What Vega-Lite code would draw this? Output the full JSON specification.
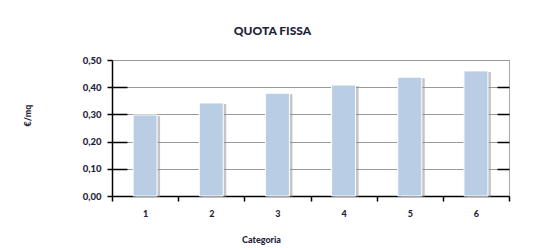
{
  "$schema": "https://vega.github.io/schema/vega-lite/v6.json",
  "autosize": {"type": "none"},
  "padding": {"left": 112, "top": 60, "right": 35, "bottom": 52},
  "width": 397,
  "height": 136,
  "background": "white",
  "title": {
    "text": "QUOTA FISSA",
    "anchor": "middle",
    "dx": -38,
    "offset": 17,
    "font": "Lato",
    "fontSize": 12,
    "fontWeight": 900,
    "color": "#1f1f3a"
  },
  "config": {
    "view": {"stroke": "#a6a6a6", "strokeWidth": 1},
    "font": "Lato",
    "axis": {"labelFont": "Lato", "titleFont": "Lato", "labelFontWeight": 900, "titleFontWeight": 900, "labelColor": "#1f1f3a", "titleColor": "#1f1f3a"}
  },
  "data": {
    "values": [
      {"Categoria": "1", "valore": 0.298},
      {"Categoria": "2", "valore": 0.342},
      {"Categoria": "3", "valore": 0.378},
      {"Categoria": "4", "valore": 0.408},
      {"Categoria": "5", "valore": 0.437},
      {"Categoria": "6", "valore": 0.46}
    ]
  },
  "resolve": {"axis": {"y": "independent"}},
  "layer": [
    {
      "mark": {"type": "bar", "width": 24, "color": "#8c8c8c", "opacity": 0.5, "xOffset": 3, "yOffset": 1},
      "encoding": {
        "x": {
          "field": "Categoria", "type": "ordinal",
          "scale": {"paddingInner": 0, "paddingOuter": 0},
          "axis": {
            "title": "Categoria", "labelAngle": 0, "tickBand": "extent",
            "domainColor": "#000000", "domainWidth": 1.5, "tickColor": "#000000", "tickWidth": 1.5, "tickSize": 5,
            "labelFontSize": 9, "labelPadding": 8,
            "titleFontSize": 9, "titleX": 149, "titleY": 43, "titleBaseline": "middle", "titleAlign": "center"
          }
        },
        "y": {
          "field": "valore", "type": "quantitative",
          "scale": {"domain": [0, 0.5], "nice": false},
          "axis": {
            "title": "€/mq", "orient": "left",
            "values": [0, 0.1, 0.2, 0.3, 0.4, 0.5],
            "labelExpr": "replace(format(datum.value, '.2f'), '.', ',')",
            "labelFontSize": 9.5, "labelPadding": 6,
            "domainColor": "#000000", "domainWidth": 1.5, "tickColor": "#000000", "tickWidth": 1.5, "tickSize": 5,
            "grid": true, "gridColor": "#999999", "gridWidth": 1.2,
            "titleFontSize": 9, "titleX": -85, "titleY": 55, "titleBaseline": "middle", "titleAlign": "center", "titleAngle": -90
          }
        }
      }
    },
    {
      "mark": {"type": "bar", "width": 24, "color": "#b9cde5", "stroke": "#ffffff", "strokeWidth": 1},
      "encoding": {
        "x": {"field": "Categoria", "type": "ordinal"},
        "y": {
          "field": "valore", "type": "quantitative",
          "axis": {
            "orient": "left", "title": null, "labels": false, "domain": false, "grid": false,
            "values": [0.1, 0.2, 0.3, 0.4],
            "tickColor": "#000000", "tickWidth": 1.5, "tickSize": -15
          }
        }
      }
    },
    {
      "mark": {"type": "bar", "width": 24, "opacity": 0},
      "encoding": {
        "x": {"field": "Categoria", "type": "ordinal"},
        "y": {
          "field": "valore", "type": "quantitative",
          "axis": {
            "orient": "right", "title": null, "labels": false, "domain": false, "grid": false,
            "values": [0.1, 0.2, 0.3, 0.4],
            "tickColor": "#000000", "tickWidth": 1.5, "tickSize": -12
          }
        }
      }
    }
  ]
}
